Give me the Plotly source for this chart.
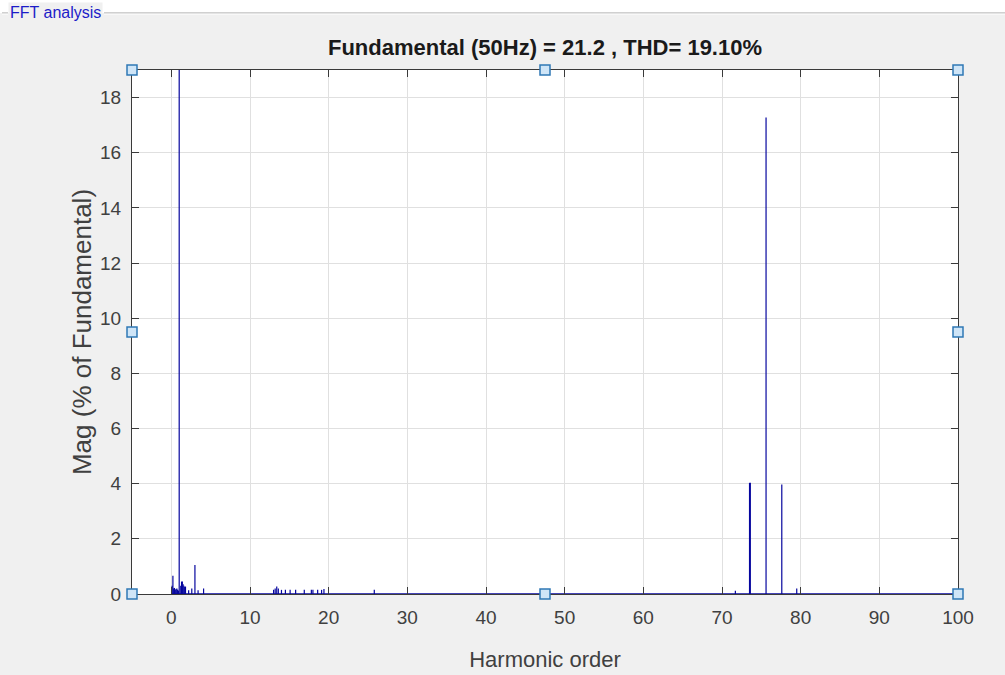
import plotly.graph_objects as go

# Harmonic spectrum (order, magnitude in % of fundamental)
harmonic_order = [
    0.1, 0.2, 0.3, 0.4, 0.5, 0.6, 0.7, 0.8, 0.9, 1.0,
    1.2, 1.3, 1.4, 1.5, 1.6, 1.7, 1.8, 2.2, 2.6, 3.0, 3.4, 4.1,
    13.0, 13.2, 13.4, 13.6, 14.0, 14.5, 15.1, 15.8, 16.9, 17.8, 18.0,
    18.6, 19.1, 19.4, 25.8,
    71.7, 73.5, 73.6, 75.6, 77.6, 79.5,
]
magnitude = [
    0.30, 0.66, 0.20, 0.22, 0.15, 0.18, 0.20, 0.15, 0.12, 100.0,
    0.30, 0.45, 0.45, 0.35, 0.30, 0.25, 0.27, 0.14, 0.20, 1.05, 0.14, 0.20,
    0.15, 0.20, 0.27, 0.20, 0.15, 0.15, 0.15, 0.15, 0.15, 0.15, 0.15,
    0.15, 0.15, 0.18, 0.15,
    0.12, 4.03, 4.03, 17.28, 3.97, 0.20,
]

x_ticks = list(range(0, 101, 10))
y_ticks = list(range(0, 19, 2))
x_range = [-5, 100]
y_range = [0, 19]

title_text = "Fundamental (50Hz) = 21.2 , THD= 19.10%"
panel_text = "FFT analysis"

W, H = 1005, 675
M_L, M_R, M_T, M_B = 132, 47, 70, 81
plot_w = W - M_L - M_R
plot_h = H - M_T - M_B

BAR_COLOR = "#06069e"
FONT = "Liberation Sans, Arial, Helvetica, sans-serif"


def px_to_paper_x(px):
    return (px - M_L) / plot_w


def py_to_paper_y(py):
    return (H - M_B - py) / plot_h


# stems drawn as vertical segments from zero to each magnitude
sx, sy = [], []
for h, m in zip(harmonic_order, magnitude):
    sx += [h, h, None]
    sy += [0, m, None]

fig = go.Figure()
fig.add_trace(go.Scatter(
    x=[0, 100], y=[0, 0], mode="lines",
    line=dict(color=BAR_COLOR, width=1.3), hoverinfo="skip", showlegend=False,
))
fig.add_trace(go.Scatter(
    x=sx, y=sy, mode="lines",
    line=dict(color=BAR_COLOR, width=1.2), hoverinfo="skip", showlegend=False,
))

axis_common = dict(
    showgrid=True, gridcolor="#e0e0e0", gridwidth=1,
    showline=True, linecolor="#3a3a3a", linewidth=1,
    mirror="ticks", ticks="inside", ticklen=7, tickcolor="#3a3a3a",
    tickfont=dict(family=FONT, size=19, color="#404040"),
    zeroline=False, fixedrange=True, automargin=False,
)

fig.update_layout(
    width=W, height=H,
    margin=dict(l=M_L, r=M_R, t=M_T, b=M_B),
    paper_bgcolor="#f0f0f0", plot_bgcolor="#ffffff",
    title=dict(
        text="<b>" + title_text + "</b>",
        font=dict(family=FONT, size=22, color="#1a1a1a"),
        x=0.5, xref="paper", xanchor="center",
        y=1 - 47 / H, yref="container", yanchor="middle",
    ),
    xaxis=dict(
        range=x_range, tickvals=x_ticks, ticklabelstandoff=6,
        title=dict(text="Harmonic order", standoff=24,
                   font=dict(family=FONT, size=22, color="#404040")),
        **axis_common,
    ),
    yaxis=dict(
        range=y_range, tickvals=y_ticks, ticklabelstandoff=6,
        title=dict(text="Mag (% of Fundamental)", standoff=0,
                   font=dict(family=FONT, size=26, color="#404040")),
        **axis_common,
    ),
)

shapes = []
# white strip above the panel frame
shapes.append(dict(type="rect", xref="paper", yref="paper", layer="below",
                   x0=px_to_paper_x(0), x1=px_to_paper_x(W),
                   y0=py_to_paper_y(13), y1=py_to_paper_y(0),
                   fillcolor="#ffffff", line=dict(width=0)))
# panel frame (etched line)
for x0, x1 in [(2, 8), (104, W)]:
    shapes.append(dict(type="line", xref="paper", yref="paper",
                       x0=px_to_paper_x(x0), x1=px_to_paper_x(x1),
                       y0=py_to_paper_y(13), y1=py_to_paper_y(13),
                       line=dict(color="#a0a0a0", width=1)))
    shapes.append(dict(type="line", xref="paper", yref="paper",
                       x0=px_to_paper_x(x0), x1=px_to_paper_x(x1),
                       y0=py_to_paper_y(14), y1=py_to_paper_y(14),
                       line=dict(color="#ffffff", width=1)))

# selection handles at the corners and edge midpoints of the axes box
for hx in (0, 0.5, 1):
    for hy in (0, 0.5, 1):
        if hx == 0.5 and hy == 0.5:
            continue
        shapes.append(dict(
            type="rect", xref="paper", yref="paper",
            xsizemode="pixel", ysizemode="pixel",
            xanchor=hx, yanchor=hy,
            x0=-5, x1=5, y0=-5, y1=5,
            fillcolor="#cfe5f7", line=dict(color="#2f78b5", width=1.5),
        ))
fig.update_layout(shapes=shapes)

fig.add_annotation(
    text=panel_text, xref="paper", yref="paper",
    x=px_to_paper_x(8), y=py_to_paper_y(13),
    xanchor="left", yanchor="middle", showarrow=False,
    font=dict(family=FONT, size=16, color="#1c1cc8"),
    bgcolor="#f0f0f0",
)

fig.write_html("out.html")
